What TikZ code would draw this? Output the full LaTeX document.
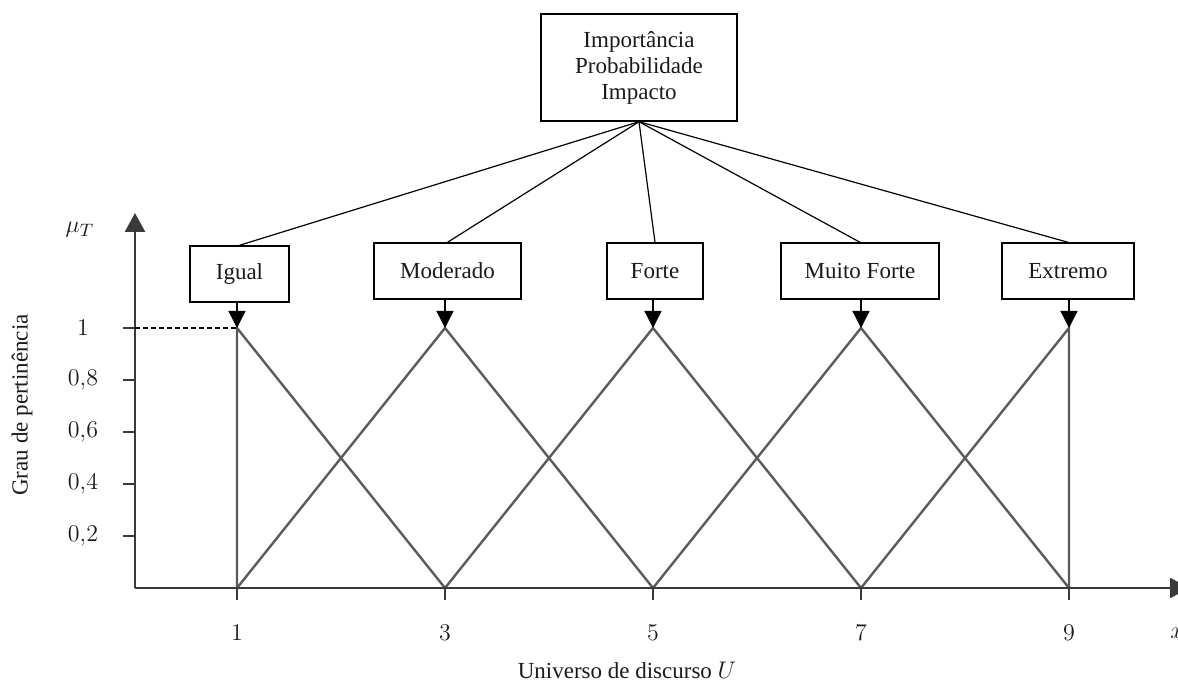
\documentclass[tikz,border=0pt]{standalone}
\usepackage{fontspec}
\setmainfont{Liberation Serif}
\usetikzlibrary{arrows.meta}
\definecolor{axisInk}{HTML}{3A3A3A}
\definecolor{memberGray}{HTML}{595959}
\definecolor{inkText}{HTML}{1A1A1A}

\begin{document}
\begin{tikzpicture}[
  x=0.5pt, y=-0.5pt,
  font=\fontsize{11.5}{13}\selectfont,
  every node/.style={text=inkText},
  box/.style={draw, line width=0.7pt, align=center, inner sep=0pt,
              minimum height=28pt, fill=white},
  topbox/.style={box, minimum width=98pt, minimum height=53.5pt},
  link/.style={line width=0.6pt, draw=black},
  down/.style={-{Triangle[length=8.5pt,width=8.5pt]}, line width=0.7pt, draw=black},
  axis/.style={-{Triangle[length=9.5pt,width=10pt]}, line width=1.3pt, draw=axisInk},
  tick/.style={line width=1.3pt, draw=axisInk},
  memb/.style={line width=1.2pt, draw=memberGray, line join=miter},
  lbl/.style={inner sep=1pt},
  num/.style={lbl, font=\fontsize{13}{15}\selectfont},
]
\useasboundingbox (0,0) rectangle (1178,684);

% ---------------- POINTS OF THE FUNCTIONS ----------------
\coordinate (O) at (135,588);
\coordinate (P1) at (237,328);  \coordinate (B1) at (237,588);
\coordinate (P3) at (445,328);  \coordinate (B3) at (445,588);
\coordinate (P5) at (653,328);  \coordinate (B5) at (653,588);
\coordinate (P7) at (861,328);  \coordinate (B7) at (861,588);
\coordinate (P9) at (1069,328); \coordinate (B9) at (1069,588);

% ---------------- NODES ----------------
\node[topbox] (TOP) at (639,67.5) {Importância\\Probabilidade\\Impacto};
\node[box, minimum width=49.5pt] (IGUAL) at (239.5,274) {Igual};
\node[box, minimum width=73.5pt] (MOD) at (447.5,271) {Moderado};
\node[box, minimum width=48pt] (FORTE) at (655,271) {Forte};
\node[box, minimum width=79pt] (MFORTE) at (860,271) {Muito Forte};
\node[box, minimum width=66pt] (EXT) at (1068,271) {Extremo};

% ---------------- MEMBERSHIP FUNCTIONS ----------------
\draw[memb] (B1) -- (P1) -- (B3);
\draw[memb] (B1) -- (P3) -- (B5);
\draw[memb] (B3) -- (P5) -- (B7);
\draw[memb] (B5) -- (P7) -- (B9);
\draw[memb] (B7) -- (P9) -- (B9);

% ---------------- AXES ----------------
\draw[axis] (O) -- (135,213);
\draw[axis] (O) -- (1189,588);
\draw[tick] (123,328) -- (O |- P1);
\draw[tick] (123,380) -- (135,380);
\draw[tick] (123,432) -- (135,432);
\draw[tick] (123,484) -- (135,484);
\draw[tick] (123,536) -- (135,536);
\draw[tick] (B1) -- ++(0,12);
\draw[tick] (B3) -- ++(0,12);
\draw[tick] (B5) -- ++(0,12);
\draw[tick] (B7) -- ++(0,12);
\draw[tick] (B9) -- ++(0,12);
\draw[line width=0.6pt, dash pattern=on 2.5pt off 1.5pt] (135,328) -- (P1);

% ---------------- AXIS LABELS ----------------
\node[num] (Y1) at (83,328) {$1$};
\node[num] (Y8) at (83,380) {$0{,}8$};
\node[num] (Y6) at (83,432) {$0{,}6$};
\node[num] (Y4) at (83,484) {$0{,}4$};
\node[num] (Y2) at (83,536) {$0{,}2$};
\node[num] (X1) at (237,633) {$1$};
\node[num] (X3) at (445,633) {$3$};
\node[num] (X5) at (653,633) {$5$};
\node[num] (X7) at (861,633) {$7$};
\node[num] (X9) at (1069,633) {$9$};
\node[num, anchor=west, inner sep=0pt] (XV) at (1170,633) {$x$};
\node[num] (MU) at (80,230) {$\mu_T$};
\node[lbl, rotate=90] (YLAB) at (22,405) {Grau de pertinência};
\node[lbl] (XLAB) at (627,670) {Universo de discurso $U$};

% ---------------- EDGES ----------------
\draw[link] (TOP.south) -- (IGUAL.north);
\draw[link] (TOP.south) -- (MOD.north);
\draw[link] (TOP.south) -- (FORTE.north);
\draw[link] (TOP.south) -- (MFORTE.north);
\draw[link] (TOP.south) -- (EXT.north);
\draw[down] (IGUAL.south -| P1) -- (P1);
\draw[down] (MOD.south -| P3) -- (P3);
\draw[down] (FORTE.south -| P5) -- (P5);
\draw[down] (MFORTE.south -| P7) -- (P7);
\draw[down] (EXT.south -| P9) -- (P9);
\end{tikzpicture}
\end{document}
